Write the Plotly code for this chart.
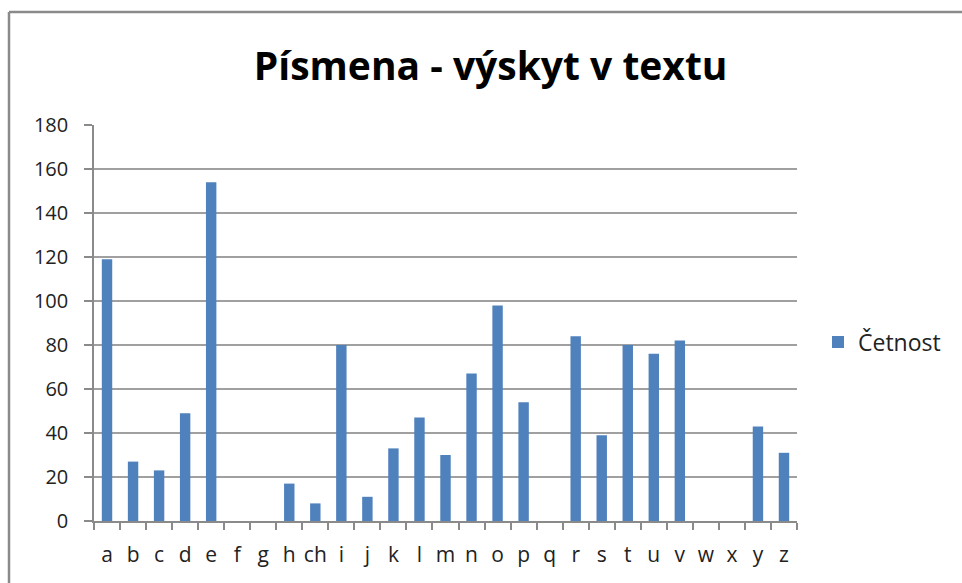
import plotly.graph_objects as go

categories = ["a", "b", "c", "d", "e", "f", "g", "h", "ch", "i", "j", "k", "l", "m",
              "n", "o", "p", "q", "r", "s", "t", "u", "v", "w", "x", "y", "z"]
counts = [119, 27, 23, 49, 154, 0, 0, 17, 8, 80, 11, 33, 47, 30,
          67, 98, 54, 0, 84, 39, 80, 76, 82, 0, 0, 43, 31]
series_name = "Četnost"
title_text = "Písmena - výskyt v textu"
y_ticks = [0, 20, 40, 60, 80, 100, 120, 140, 160, 180]

FONT = "Open Sans"
fig = go.Figure()
fig.add_trace(go.Bar(
    x=categories, y=counts, name=series_name,
    marker=dict(color="#4F81BD", line=dict(width=0)),
    width=0.4,
))

W, H = 962, 583
L, R, T, B = 94, 165, 125, 62
pw, ph = W - L - R, H - T - B

def px_x(p):
    return (p - L) / pw

def px_y(p):
    return (H - B - p) / ph

fig.update_layout(
    width=W, height=H,
    margin=dict(l=L, r=R, t=T, b=B),
    paper_bgcolor="white", plot_bgcolor="white",
    font=dict(family=FONT, color="#222222"),
    title=dict(text="<b>" + title_text + "</b>", x=0.51, xanchor="center",
               y=1 - 66 / H, yanchor="middle",
               font=dict(family=FONT, size=39, color="black")),
    showlegend=True,
    legend=dict(x=px_x(818), xanchor="left", y=px_y(342), yanchor="middle",
                font=dict(size=23, color="#222222"), bgcolor="rgba(0,0,0,0)",
                itemwidth=30),
    shapes=[
        dict(type="line", xref="paper", yref="paper",
             x0=px_x(9), x1=px_x(962), y0=px_y(12), y1=px_y(12),
             line=dict(color="#8a8a8a", width=2.5)),
        dict(type="line", xref="paper", yref="paper",
             x0=px_x(9), x1=px_x(9), y0=px_y(12), y1=px_y(583),
             line=dict(color="#8a8a8a", width=2.5)),
    ],
)
fig.update_xaxes(
    type="category", showgrid=False, showline=True, linecolor="#8a8a8a", linewidth=1.5,
    ticks="outside", tickson="boundaries", ticklen=7, tickcolor="#8a8a8a", tickwidth=1.5,
    tickangle=0, tickfont=dict(size=21, color="#222222"), ticklabelstandoff=14,
)
fig.update_yaxes(
    range=[0, 180], tickvals=y_ticks, showgrid=True, gridcolor="#a0a0a0", gridwidth=1.5,
    showline=True, linecolor="#8a8a8a", linewidth=1.5, zeroline=False,
    ticks="outside", ticklen=8, tickcolor="#8a8a8a", tickwidth=1.5,
    tickfont=dict(size=20, color="#222222"), ticklabelstandoff=12,
)

fig.write_html("out.html", config={"displayModeBar": False},
               post_script="document.body.style.margin='0';")
